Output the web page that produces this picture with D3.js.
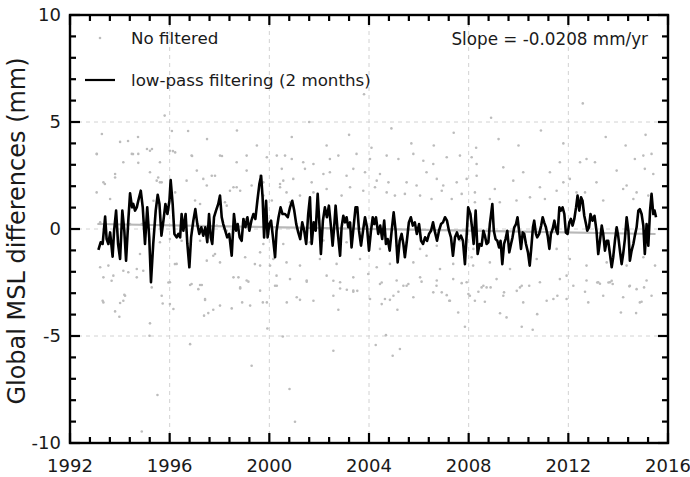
<!DOCTYPE html>
<html>
<head>
<meta charset="utf-8">
<script src="https://cdn.jsdelivr.net/npm/d3@7"></script>
<style>
  body { margin: 0; background: #fff; }
  text { font-family: "DejaVu Sans", sans-serif; fill: #1a1a1a; }
</style>
</head>
<body>
<svg id="chart" width="690" height="477"></svg>
<script>
// axis ticks
const xMajorTicks = [1992, 1996, 2000, 2004, 2008, 2012, 2016];
const yMajorTicks = [-10, -5, 0, 5, 10];
const gridYears = [1996, 2000, 2004, 2008, 2012];
const gridValues = [-5, 0, 5];

// legend / annotation
const legendLabels = ['No filtered', 'low-pass filtering (2 months)'];
const slopeText = 'Slope = -0.0208 mm/yr';
const trendSlope = -0.0208;   // mm/yr
const trendMidYear = 2004.3;
const trendRange = [1993.1, 2015.5];

// low-pass filtered series [year, mm]
const lowPass1 = [
  [1993.14,-0.98],[1993.23,-0.62],[1993.31,-0.70],[1993.41,0.58],[1993.47,-0.47],[1993.54,-0.70],[1993.61,-0.16],
  [1993.71,-1.29],[1993.77,-0.08],[1993.85,0.86],[1993.93,-0.70],[1994.01,-1.40],[1994.10,0.86],[1994.18,-0.08],
  [1994.25,-1.48],[1994.34,0.39],[1994.41,1.67],[1994.49,1.01],[1994.54,1.17],[1994.61,0.86],[1994.68,1.01],
  [1994.74,1.32],[1994.84,1.79],[1994.92,1.01],[1995.01,-0.70],[1995.10,1.01],[1995.18,-0.39],[1995.25,-2.49],
  [1995.34,-0.70],[1995.44,0.86],[1995.52,1.60],[1995.59,1.17],[1995.67,-0.31],[1995.75,0.39],[1995.83,1.17],
  [1995.91,0.70],[1995.99,1.32],[1996.04,2.29],[1996.12,1.17],[1996.19,-0.23],[1996.28,-0.39],[1996.35,-0.23],
  [1996.42,-0.39],[1996.48,0.70],[1996.55,-0.08],[1996.64,0.70],[1996.71,-0.70],[1996.79,-1.79],[1996.86,-0.39],
  [1996.95,0.39],[1997.03,0.93],[1997.11,0.23],[1997.19,-0.23],[1997.27,0.08],[1997.35,-0.31],[1997.43,0.08],
  [1997.51,-0.62],[1997.58,0.70],[1997.65,-0.39],[1997.71,-0.70],[1997.78,0.55],[1997.86,0.86],[1997.95,1.17],
  [1998.02,1.56],[1998.09,0.55],[1998.15,0.23],[1998.23,-0.08],[1998.31,-0.39],[1998.39,-0.23],[1998.49,-1.25],
  [1998.58,0.70],[1998.66,-0.08],[1998.73,0.23],[1998.81,-0.39],[1998.89,-0.55],[1998.96,0.47],[1999.04,0.08],
  [1999.12,0.55],[1999.20,-0.08],[1999.28,0.39],[1999.36,0.70],[1999.44,0.47],[1999.52,1.32],[1999.60,2.10],
  [1999.67,2.49],[1999.73,1.48],[1999.79,-0.39],[1999.87,1.32],[1999.93,-0.39],[2000.00,0.23],[2000.07,0.39],
  [2000.13,-0.23],[2000.23,-1.32],[2000.29,-0.08],[2000.37,0.55],[2000.45,1.01],[2000.53,0.70]
];
const lowPass2 = [
  [2000.63,0.70],[2000.74,0.55],[2000.83,1.01],[2000.92,1.32],[2001.00,0.86],[2001.08,0.23],[2001.16,-0.16],
  [2001.24,-0.47],[2001.32,0.31],[2001.40,-0.08],[2001.48,-0.70],[2001.56,0.70],[2001.63,1.48],[2001.70,-0.70],
  [2001.78,0.31],[2001.86,-0.08],[2001.94,1.64],[2002.01,0.23],[2002.07,-1.17],[2002.15,0.39],[2002.23,1.01],
  [2002.31,0.55],[2002.39,1.09],[2002.47,0.16],[2002.54,-0.78],[2002.61,0.23],[2002.66,1.09],[2002.74,-0.08],
  [2002.84,-1.25],[2002.90,0.08],[2002.97,0.62],[2003.04,0.31],[2003.10,0.55],[2003.17,0.08],[2003.24,0.31],
  [2003.30,-0.86],[2003.38,0.08],[2003.46,1.01],[2003.53,1.01],[2003.60,-0.08],[2003.68,-0.78],[2003.76,-0.08],
  [2003.84,0.55],[2003.92,0.08],[2004.00,-1.01],[2004.08,-0.08],[2004.15,0.55],[2004.21,0.23],[2004.28,0.55],
  [2004.37,-0.23],[2004.45,0.16],[2004.53,-0.47],[2004.61,0.39],[2004.68,-0.70],[2004.75,-0.47],[2004.83,-1.01],
  [2004.91,-0.08],[2004.99,0.78],[2005.07,-0.08],[2005.15,-1.56],[2005.23,-0.55],[2005.31,-0.23],[2005.38,-0.70],
  [2005.44,-1.32],[2005.52,-0.55],[2005.60,0.31],[2005.68,0.55],[2005.76,0.16],[2005.84,0.31],[2005.92,-0.23],
  [2006.01,0.23],[2006.09,-0.55],[2006.17,-0.70],[2006.25,-0.39],[2006.33,-0.55],[2006.41,-0.23],[2006.49,-0.08],
  [2006.57,0.31],[2006.65,-0.16],[2006.73,-0.55],[2006.81,-0.08],[2006.89,0.23],[2006.97,0.31],[2007.05,0.55],
  [2007.13,0.39],[2007.21,-0.08],[2007.29,-0.39],[2007.37,-1.25],[2007.45,-0.39],[2007.53,-0.16],[2007.61,-0.47],
  [2007.69,-0.31],[2007.77,-0.55],[2007.85,-1.64],[2007.93,-0.08],[2007.98,1.01],[2008.07,0.70],[2008.15,-0.08],
  [2008.20,-0.70],[2008.28,0.86],[2008.36,-1.17],[2008.44,-0.70]
];
const lowPass3 = [
  [2008.52,-0.78],[2008.59,-0.08],[2008.65,-0.31],[2008.72,-0.70],[2008.79,-0.62],[2008.85,0.23],[2008.95,1.17],
  [2009.01,-0.08],[2009.08,-0.47],[2009.15,-0.55],[2009.22,-0.86],[2009.28,-0.55],[2009.35,-1.64],[2009.42,-0.70],
  [2009.48,-0.47],[2009.55,-0.08],[2009.63,-1.09],[2009.70,-0.70],[2009.76,-0.39],[2009.83,0.08],[2009.90,0.23],
  [2009.96,0.55],[2010.03,-0.16],[2010.10,-0.93],[2010.17,-0.16],[2010.23,-0.23],[2010.30,-0.70],[2010.38,-1.09],
  [2010.45,-1.71],[2010.51,-0.93],[2010.58,0.08],[2010.63,0.39],[2010.70,-0.23],[2010.75,-0.39],[2010.83,-0.23],
  [2010.91,0.16],[2010.97,0.55],[2011.03,0.31],[2011.10,0.08],[2011.17,-0.31],[2011.24,-0.93],[2011.30,-0.23],
  [2011.37,0.00],[2011.44,0.39],[2011.50,0.00],[2011.57,-0.23],[2011.64,1.01],[2011.70,0.86],[2011.77,1.01],
  [2011.84,0.70],[2011.90,-0.16],[2011.97,-0.23],[2012.04,0.31],[2012.10,0.47],[2012.17,0.16],[2012.24,0.47],
  [2012.31,1.01],[2012.37,1.56],[2012.44,0.86],[2012.51,1.48],[2012.57,1.32],[2012.64,0.62],[2012.71,0.23],
  [2012.76,-0.08],[2012.83,0.08],[2012.89,0.70],[2012.97,0.39],[2013.05,0.62],[2013.13,-0.08],[2013.20,-1.17],
  [2013.27,-0.55],[2013.34,0.16],[2013.40,-0.23],[2013.47,-1.01],[2013.54,-0.55],[2013.60,-0.55],[2013.67,-1.17],
  [2013.74,-1.79],[2013.80,-1.32],[2013.87,-0.55],[2013.94,0.08],[2014.00,-0.31],[2014.07,-1.01],[2014.14,-1.64],
  [2014.20,-1.17],[2014.27,-0.47],[2014.34,0.55],[2014.41,-0.08],[2014.47,-1.48],[2014.54,-1.01],[2014.61,-0.70],
  [2014.67,-0.31],[2014.74,0.08],[2014.81,0.86],[2014.87,0.93],[2014.94,0.70],[2015.01,0.16],[2015.07,-1.17],
  [2015.14,0.23],[2015.21,-0.78],[2015.28,0.86],[2015.34,1.64],[2015.41,0.70],[2015.46,0.86],[2015.52,0.55]
];

// unfiltered points [year, mm]
const rawPoints = [
  [1993.07,3.51],[1994.48,3.51],[1994.74,3.51],[1995.21,3.66],[1996.01,3.66],[1996.22,3.58],[1996.88,3.43],
  [1998.02,3.43],[1998.69,3.12],[1999.09,3.43],[1999.90,3.35],[2000.30,3.43],[1994.14,3.12],[1994.74,3.09],
  [1995.61,3.12],[1997.09,2.73],[1997.69,2.49],[1997.82,2.49],[1999.63,2.49],[2000.50,2.81],[1993.81,2.57],
  [1993.34,2.18],[1995.21,2.65],[1995.48,2.26],[1995.61,2.18],[1996.68,2.26],[1997.49,2.03],[1998.56,1.95],
  [1998.83,1.79],[1999.29,2.03],[1999.76,2.18],[2000.43,1.95],[1993.07,1.71],[1993.61,1.40],[1996.22,1.71],
  [1997.02,1.33],[1997.22,1.17],[1998.22,1.25],[1998.29,1.09],[1999.76,1.56],[2000.10,1.33],[2000.83,1.25],
  [1993.21,0.31],[1994.41,0.23],[1994.88,0.23],[1997.89,0.16],[1998.29,-0.08],[1998.56,-0.16],[1999.03,0.47],
  [1995.61,-0.62],[1996.01,-0.47],[1997.75,-1.25],[1999.03,-1.32],[1999.63,-1.09],[2000.16,-1.40],[2000.56,-0.70],
  [1993.21,-1.79],[1993.54,-1.71],[1993.74,-2.18],[1993.34,-2.26],[1994.14,-1.95],[1994.34,-2.02],[1994.68,-1.87],
  [1996.28,-1.63],[1996.01,-2.49],[1997.49,-1.48],[1998.02,-1.56],[1998.56,-2.26],[1999.09,-2.41],[1999.63,-1.71],
  [2000.03,-1.71],[1994.21,-3.12],[1994.68,-2.26],[1995.68,-3.12],[1996.88,-2.57],[1997.22,-2.62],[1997.42,-3.27],
  [1998.83,-2.73],[1999.63,-2.88],[2000.30,-2.65],[1993.34,-3.43],[1994.14,-3.35],[1996.01,-3.51],[1998.02,-3.58],
  [1999.23,-3.58],[1999.90,-3.43],[2000.70,-3.43],
  [2000.63,3.43],[2000.90,3.27],[2001.36,3.12],[2001.77,3.04],[2002.43,3.27],[2002.77,3.43],[2003.50,3.51],
  [2004.04,3.27],[2004.71,3.43],[2005.18,3.27],[2005.78,3.51],[2006.18,3.19],[2006.58,3.04],[2007.12,3.35],
  [2007.65,3.43],[2008.12,3.35],[2000.56,2.26],[2000.96,2.34],[2001.43,2.81],[2001.70,2.18],[2002.17,2.57],
  [2002.43,2.65],[2003.10,2.49],[2003.37,2.81],[2003.84,2.65],[2004.31,2.26],[2004.44,2.57],[2004.78,2.18],
  [2005.51,2.18],[2005.91,2.03],[2006.31,2.65],[2006.72,2.34],[2006.98,2.03],[2007.52,2.18],[2007.92,2.34],
  [2008.32,2.49],[2000.69,1.71],[2001.23,1.56],[2001.77,1.71],[2002.30,1.87],[2002.90,1.56],[2003.24,1.95],
  [2003.77,1.79],[2004.24,1.95],[2004.71,1.71],[2005.04,1.56],[2005.44,1.64],[2006.05,1.56],[2006.51,1.40],
  [2006.92,1.79],[2007.32,1.40],[2007.72,1.64],[2008.25,1.71],[2001.63,-0.62],[2002.17,-0.54],[2003.10,-0.62],
  [2003.71,-0.39],[2004.44,-0.93],[2005.11,-0.78],[2005.51,-0.62],[2006.05,-0.93],[2006.72,-0.78],[2007.65,-0.54],
  [2008.19,-0.93],[2000.69,-1.56],[2001.23,-1.71],[2002.03,-1.40],[2002.70,-1.63],[2003.64,-1.40],[2004.31,-1.79],
  [2004.84,-1.63],[2005.78,-1.56],[2006.31,-1.25],[2006.85,-1.87],[2007.38,-1.63],[2008.12,-1.32],[2000.83,-2.34],
  [2001.50,-2.41],[2002.30,-2.18],[2002.84,-2.49],[2003.37,-2.26],[2003.97,-2.10],[2004.44,-2.57],[2005.11,-2.41],
  [2005.51,-2.65],[2006.05,-2.26],[2006.72,-2.41],[2007.38,-2.34],[2007.92,-2.49],[2001.10,-3.19],[2001.77,-3.35],
  [2002.57,-3.12],[2003.37,-2.88],[2004.04,-3.27],[2004.98,-3.12],[2005.78,-3.19],[2006.58,-2.96],[2007.25,-3.35],
  [2008.05,-3.12],
  [2008.32,3.04],[2009.39,2.88],[2010.19,2.65],[2011.66,3.12],[2012.47,3.12],[2012.73,3.27],[2013.07,3.12],
  [2014.67,3.27],[2015.01,3.43],[2015.34,3.51],[2009.05,1.87],[2009.79,2.26],[2010.86,1.95],[2011.26,2.65],
  [2011.80,2.18],[2012.06,2.34],[2013.13,2.18],[2013.94,2.73],[2014.34,2.03],[2014.74,1.71],[2015.07,2.81],
  [2015.41,2.57],[2008.25,1.25],[2008.85,1.40],[2009.25,1.25],[2009.92,1.33],[2010.46,1.48],[2011.06,1.40],
  [2011.53,1.79],[2012.33,1.71],[2012.67,1.71],[2013.40,1.33],[2014.20,1.87],[2014.61,1.40],[2015.21,1.56],
  [2008.18,-1.71],[2008.85,-1.56],[2009.66,-1.87],[2010.73,-1.40],[2011.53,-0.93],[2012.06,-1.40],[2012.73,-1.71],
  [2013.54,-1.56],[2014.34,-1.71],[2015.01,-1.32],[2015.48,-1.71],[2008.59,-2.65],[2009.12,-2.34],[2010.06,-2.73],
  [2010.86,-2.49],[2011.66,-2.34],[2011.93,-2.18],[2012.73,-2.41],[2013.20,-2.49],[2013.67,-2.49],[2014.47,-2.65],
  [2015.14,-2.41],[2008.25,-3.35],[2009.39,-3.12],[2010.19,-3.43],[2011.13,-3.35],[2011.93,-3.27],[2012.80,-3.43],
  [2013.40,-3.12],[2014.20,-3.19],[2014.87,-3.43],[2015.34,-3.12],
  [1993.67,-2.42],[1995.28,-2.73],[1995.95,-2.50],[1996.82,-2.62],[1997.29,-2.62],[1997.15,-2.81],[1998.83,-2.78],
  [1999.16,-2.46],[2000.23,-2.65],[2001.50,-2.46],[2002.57,-2.42],[2002.84,-2.78],[2003.11,-2.84],[2003.37,-2.93],
  [2003.53,-2.89],[1993.31,-3.35],[1994.18,-3.07],[1994.01,-3.46],[1995.72,-3.48],[1997.42,-3.32],[1998.91,-3.43],
  [1999.74,-3.43],[2001.23,-3.31],[1993.81,-3.85],[1993.98,-4.10],[1996.15,-3.74],[1997.38,-4.05],[1997.55,-3.93],
  [1997.75,-3.77],[1998.49,-3.71],[2002.77,-3.77],[1995.21,-4.41],[1999.92,-4.65],[1995.19,-4.99],[2000.54,-5.02],
  [1996.82,-5.38],[2002.57,-5.69],[1999.29,-6.39],[2000.81,-7.48],[1995.51,-7.76],[2001.03,-9.01],[1994.88,-9.46],
  [2004.51,-2.50],[2004.64,-3.27],[2004.84,-3.31],[2004.51,-3.51],[2005.14,-3.77],[2005.18,-2.93],[2005.38,-2.65],
  [2005.58,-2.57],[2006.11,-2.46],[2006.71,-2.65],[2006.92,-2.96],[2007.12,-3.09],[2007.22,-3.35],[2007.58,-3.90],
  [2007.72,-2.53],[2007.99,-3.04],[2008.39,-2.93],[2008.52,-2.73],[2008.72,-2.73],[2008.88,-2.73],[2008.65,-3.40],
  [2009.42,-2.96],[2009.26,-3.94],[2009.52,-4.13],[2009.93,-2.89],[2010.13,-4.57],[2010.13,-2.65],[2010.43,-2.65],
  [2010.57,-4.71],[2010.75,-3.98],[2011.40,-3.27],[2011.56,-3.12],[2012.20,-2.65],[2012.67,-2.93],[2013.16,-2.50],
  [2013.27,-2.56],[2013.61,-2.50],[2013.78,-2.57],[2013.74,-2.42],[2014.11,-3.90],[2014.45,-2.68],[2014.74,-2.81],
  [2014.72,-3.93],[2014.94,-3.40],[2015.04,-2.73],[2007.85,-4.57],[2004.27,-5.42],[2004.68,-4.96],[2004.95,-5.92],
  [2005.24,-5.61],
  [1993.28,4.44],[1994.01,4.07],[1994.33,4.11],[1994.73,4.30],[1995.09,3.74],[1995.29,3.74],[1994.53,3.50],
  [1993.08,3.50],[1996.13,3.64],[1996.74,4.58],[1996.09,4.58],[1996.90,3.41],[1998.10,3.41],
  [1993.40,2.10],[1993.81,2.41],[1994.81,-1.17],[1994.94,-1.95],[1995.54,2.41],[1995.68,2.18],[1995.35,1.32],
  [1996.21,-1.64],[1996.48,-0.55],[1997.22,-0.55],[1997.35,2.34],[1997.82,-1.17],[1998.42,1.79],[1998.69,1.95],
  [1999.09,2.73],[1998.76,-2.26],[1999.42,-1.64],[1999.76,-0.70],[2000.29,-2.18],[2000.43,2.10],
  [1997.50,4.20],[1998.70,4.60],[1999.50,3.90],[2000.90,4.30],[2001.60,5.00],[2002.30,3.90],[2003.20,4.40],
  [2004.10,3.80],[2004.90,4.70],[2005.70,4.00],[2006.60,3.90],[2007.40,4.50],[2008.30,3.80],[2009.20,4.20],
  [2010.00,3.90],[2010.90,4.60],[2011.80,4.00],[2012.58,5.87],[2013.50,4.30],[2014.30,3.90],[2015.10,4.40],
  [1995.80,5.30],[2003.80,6.30],[2008.90,5.20]
];

const svg = d3.select('#chart');
const margin = { left: 70, right: 22, top: 15, bottom: 34 };
const W = 690, H = 477;

const x = d3.scaleLinear().domain([1992, 2016]).range([margin.left, W - margin.right]);
const y = d3.scaleLinear().domain([-10, 10]).range([H - margin.bottom, margin.top]);
const [x0, x1] = x.range();
const [y0, y1] = y.range();

// grid lines
const grid = svg.append('g').attr('stroke', '#d2d2d2').attr('stroke-width', 1).attr('stroke-dasharray', '4,4');
grid.selectAll('.gx').data(gridYears).enter().append('line')
    .attr('x1', d => x(d)).attr('x2', d => x(d)).attr('y1', y1).attr('y2', y0);
grid.selectAll('.gy').data(gridValues).enter().append('line')
    .attr('x1', x0).attr('x2', x1).attr('y1', d => y(d)).attr('y2', d => y(d));

// raw points
svg.append('g').selectAll('circle')
    .data(rawPoints)
    .enter().append('circle')
    .attr('cx', d => x(d[0]))
    .attr('cy', d => y(d[1]))
    .attr('r', 1.3)
    .attr('fill', '#bcbcbc');

// linear trend
svg.append('line')
    .attr('x1', x(trendRange[0])).attr('y1', y(trendSlope * (trendRange[0] - trendMidYear)))
    .attr('x2', x(trendRange[1])).attr('y2', y(trendSlope * (trendRange[1] - trendMidYear)))
    .attr('stroke', '#b8b8b8').attr('stroke-width', 2.2);

// low-pass line
const line = d3.line().x(d => x(d[0])).y(d => y(d[1]));
svg.append('path')
    .datum(lowPass1.concat(lowPass2, lowPass3))
    .attr('d', line)
    .attr('fill', 'none')
    .attr('stroke', '#000')
    .attr('stroke-width', 2.6)
    .attr('stroke-linejoin', 'round');

// frame
svg.append('rect')
    .attr('x', x0).attr('y', y1)
    .attr('width', x1 - x0).attr('height', y0 - y1)
    .attr('fill', 'none').attr('stroke', '#000').attr('stroke-width', 2.4);

// inward ticks on all four sides
const xMinor = d3.range(1992, 2016.001, 0.8).filter(v => !xMajorTicks.some(m => Math.abs(m - v) < 1e-6));
const yMinor = d3.range(-10, 10.001, 1).filter(v => v % 5 !== 0);
const ticks = svg.append('g').attr('stroke', '#000').attr('stroke-width', 2.2);
function xTicks(vals, len) {
    vals.forEach(v => {
        ticks.append('line').attr('x1', x(v)).attr('x2', x(v)).attr('y1', y0).attr('y2', y0 - len);
        ticks.append('line').attr('x1', x(v)).attr('x2', x(v)).attr('y1', y1).attr('y2', y1 + len);
    });
}
function yTicks(vals, len) {
    vals.forEach(v => {
        ticks.append('line').attr('x1', x0).attr('x2', x0 + len).attr('y1', y(v)).attr('y2', y(v));
        ticks.append('line').attr('x1', x1).attr('x2', x1 - len).attr('y1', y(v)).attr('y2', y(v));
    });
}
xTicks(xMajorTicks, 10);
xTicks(xMinor, 6);
yTicks(yMajorTicks, 10);
yTicks(yMinor, 6);

// tick labels
svg.append('g').selectAll('text').data(xMajorTicks).enter().append('text')
    .attr('x', d => x(d)).attr('y', y0 + 29)
    .attr('text-anchor', 'middle').style('font-size', '18px')
    .text(d => d);
svg.append('g').selectAll('text').data(yMajorTicks).enter().append('text')
    .attr('x', x0 - 9).attr('y', d => y(d)).attr('dy', '0.35em')
    .attr('text-anchor', 'end').style('font-size', '18px')
    .text(d => d);

// y axis title
svg.append('text')
    .attr('transform', `translate(25,${(y0 + y1) / 2 + 2}) rotate(-90)`)
    .attr('text-anchor', 'middle').style('font-size', '24px')
    .text('Global MSL differences (mm)');

// legend
svg.append('circle').attr('cx', 100).attr('cy', 38).attr('r', 1.3).attr('fill', '#bcbcbc');
svg.append('text').attr('x', 131).attr('y', 44).style('font-size', '16.7px').text(legendLabels[0]);
svg.append('line').attr('x1', 85).attr('x2', 115).attr('y1', 80).attr('y2', 80)
    .attr('stroke', '#000').attr('stroke-width', 2.2);
svg.append('text').attr('x', 131).attr('y', 86).style('font-size', '16.7px').text(legendLabels[1]);

svg.append('text').attr('x', 648).attr('y', 45)
    .attr('text-anchor', 'end').style('font-size', '16.8px')
    .text(slopeText);
</script>
</body>
</html>
